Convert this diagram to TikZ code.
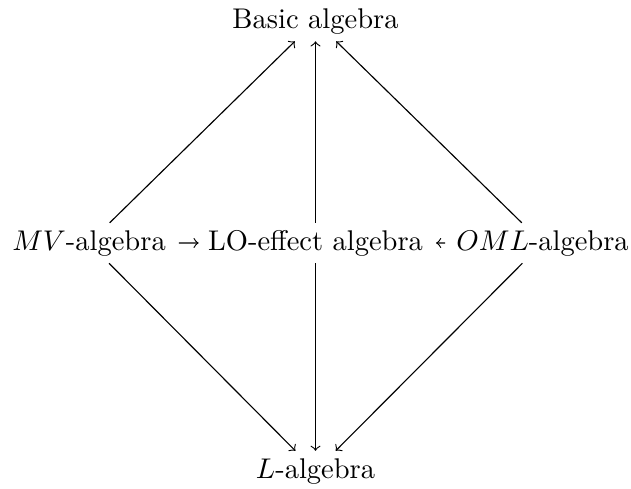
\documentclass[tikz,border=0pt]{standalone}
\begin{document}
\begin{tikzpicture}[x=0.351pt,y=-0.351pt,
  lbl/.style={inner sep=2.6pt, outer sep=0pt, anchor=base, font=\fontsize{10}{12}\selectfont},
  arr/.style={->, line width=0.4pt}]
\useasboundingbox (0,0) rectangle (631,488);
\node[lbl] (basic) at (315.5,28) {Basic algebra};
\node[lbl] (mv) at (89,250) {$MV$-algebra};
\node[lbl] (lo) at (315.5,250) {LO-effect algebra};
\node[lbl] (oml) at (542.5,250) {$OML$-algebra};
\node[lbl] (l) at (315.5,478) {$L$-algebra};
\draw[arr] (mv) -- (basic);
\draw[arr] (lo) -- (basic);
\draw[arr] (oml) -- (basic);
\draw[arr] (mv) -- (l);
\draw[arr] (lo) -- (l);
\draw[arr] (oml) -- (l);
\draw[arr, shorten <=2pt, shorten >=0.7pt] (mv) -- (lo);
\draw[arr, shorten >=2pt, shorten <=1.3pt] (oml) -- (lo);
\end{tikzpicture}
\end{document}
